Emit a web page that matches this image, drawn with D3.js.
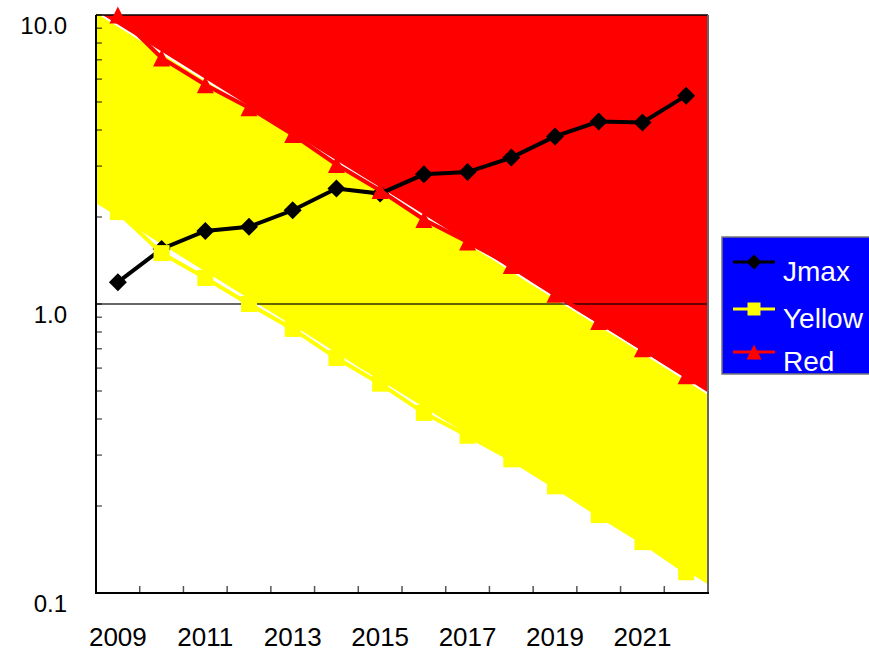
<!DOCTYPE html>
<html>
<head>
<meta charset="utf-8">
<script src="https://cdn.jsdelivr.net/npm/d3@7"></script>
<style>
  body { margin: 0; background: #fff; }
  svg { display: block; font-family: "Liberation Sans", Arial, sans-serif; }
</style>
</head>
<body>
<script>
'use strict';

// categories and series
var years = [2009, 2010, 2011, 2012, 2013, 2014, 2015, 2016, 2017, 2018, 2019, 2020, 2021, 2022];
var jmax = [1.19, 1.55, 1.79, 1.85, 2.11, 2.51, 2.41, 2.81, 2.86, 3.21, 3.80, 4.28, 4.25, 5.26];
var yellow = [2.08, 1.50, 1.23, 1.00, 0.82, 0.65, 0.53, 0.42, 0.35, 0.29, 0.234, 0.186, 0.15, 0.118];
var red = [10.0, 7.1, 5.74, 4.78, 3.86, 3.04, 2.47, 1.96, 1.64, 1.36, 1.08, 0.87, 0.70, 0.565];

// zone (area) boundaries sit on the category edges
var zoneEdges = [2008.5, 2009.5, 2010.5, 2011.5, 2012.5, 2013.5, 2014.5, 2015.5, 2016.5, 2017.5, 2018.5, 2019.5, 2020.5, 2021.5, 2022.5];
var redZone = [10.24, 8.25, 6.64, 5.35, 4.30, 3.46, 2.79, 2.25, 1.81, 1.46, 1.17, 0.94, 0.76, 0.61, 0.49];
var yellowZone = [2.21, 1.78, 1.43, 1.15, 0.93, 0.75, 0.60, 0.485, 0.39, 0.315, 0.253, 0.204, 0.164, 0.132, 0.106];

var yTickValues = [10, 1, 0.1];
var yTickLabels = ["10.0", "1.0", "0.1"];
var xTickLabels = [2009, 2011, 2013, 2015, 2017, 2019, 2021];

var legendNames = ["Jmax", "Yellow", "Red"];

var myChart = {};
myChart.width = 869;
myChart.height = 651;
myChart.left = 96;
myChart.right = 708;
myChart.top = 15;
myChart.bottom = 593;

myChart.xScale = d3.scaleLinear()
    .domain([2008.5, 2022.5])
    .range([myChart.left, myChart.right]);

myChart.yScale = d3.scaleLog()
    .domain([0.1, 10])
    .range([myChart.bottom, myChart.top]);

myChart.marker = function(sel, type, size) {
    var h = size / 2;
    if (type === "diamond") {
        sel.append("path").attr("d", "M0," + (-h) + "L" + h + ",0L0," + h + "L" + (-h) + ",0Z").attr("fill", "#000");
    } else if (type === "square") {
        sel.append("rect").attr("x", -h).attr("y", -h).attr("width", size).attr("height", size).attr("fill", "#FFFF00");
    } else {
        sel.append("path").attr("d", "M0," + (-h) + "L" + h + "," + h + "L" + (-h) + "," + h + "Z").attr("fill", "#FF0000");
    }
};

myChart.run = function() {
    var x = myChart.xScale, y = myChart.yScale;
    var svg = d3.select("body").append("svg")
        .attr("width", myChart.width)
        .attr("height", myChart.height);

    svg.append("defs").append("clipPath").attr("id", "plot")
        .append("rect")
        .attr("x", myChart.left).attr("y", myChart.top)
        .attr("width", myChart.right - myChart.left)
        .attr("height", myChart.bottom - myChart.top);

    // yellow zone between the two edges
    var yellowArea = d3.area()
        .x(function(d, i) { return x(zoneEdges[i]); })
        .y0(function(d, i) { return y(yellowZone[i]); })
        .y1(function(d, i) { return y(redZone[i]); });
    svg.append("path").datum(zoneEdges)
        .attr("d", yellowArea)
        .attr("fill", "#FFFF00");

    // red zone above the red edge
    var redArea = d3.area()
        .x(function(d, i) { return x(zoneEdges[i]); })
        .y0(function(d, i) { return y(redZone[i]); })
        .y1(function() { return y(10); });
    svg.append("path").datum(zoneEdges)
        .attr("clip-path", "url(#plot)")
        .attr("d", redArea)
        .attr("fill", "#FF0000");

    [redZone, yellowZone].forEach(function(edge) {
        svg.append("path").datum(edge)
            .attr("d", d3.line()
                .x(function(d, i) { return x(zoneEdges[i]); })
                .y(function(d) { return y(d); }))
            .attr("fill", "none")
            .attr("stroke", "#fff")
            .attr("stroke-width", 2);
    });

    // 1.0 gridline
    svg.append("line")
        .attr("x1", myChart.left).attr("x2", myChart.right)
        .attr("y1", y(1)).attr("y2", y(1))
        .attr("stroke", "#000").attr("stroke-opacity", 0.6).attr("stroke-width", 2);

    // y minor ticks (inside)
    svg.selectAll(".ytick")
        .data(y.ticks())
        .enter()
            .append("line")
            .classed("ytick", true)
            .attr("x1", myChart.left).attr("x2", myChart.left + 6)
            .attr("y1", function(d) { return y(d); })
            .attr("y2", function(d) { return y(d); })
            .attr("stroke", "#000").attr("stroke-opacity", 0.6).attr("stroke-width", 1.5);

    // x ticks between categories
    svg.selectAll(".xtick")
        .data(zoneEdges.slice(1, -1))
        .enter()
            .append("line")
            .classed("xtick", true)
            .attr("x1", function(d) { return x(d); })
            .attr("x2", function(d) { return x(d); })
            .attr("y1", myChart.bottom).attr("y2", myChart.bottom - 7)
            .attr("stroke", "#555").attr("stroke-width", 1.5);

    // frame
    svg.append("line").attr("x1", myChart.left).attr("x2", myChart.right)
        .attr("y1", myChart.top).attr("y2", myChart.top)
        .attr("stroke", "#000").attr("stroke-width", 1.5);
    svg.append("line").attr("x1", myChart.right).attr("x2", myChart.right)
        .attr("y1", myChart.top).attr("y2", myChart.bottom)
        .attr("stroke", "#666").attr("stroke-width", 2);
    svg.append("line").attr("x1", myChart.left).attr("x2", myChart.left)
        .attr("y1", myChart.top).attr("y2", myChart.bottom + 1)
        .attr("stroke", "#000").attr("stroke-width", 2);
    svg.append("line").attr("x1", myChart.left).attr("x2", myChart.right + 1)
        .attr("y1", myChart.bottom).attr("y2", myChart.bottom)
        .attr("stroke", "#000").attr("stroke-width", 2);

    // series: Jmax, Yellow, Red
    var series = [
        { values: jmax, color: "#000", marker: "diamond", size: 18 },
        { values: yellow, color: "#FFFF00", marker: "square", size: 16 },
        { values: red, color: "#FF0000", marker: "triangle", size: 17 }
    ];
    series.forEach(function(s) {
        svg.append("path").datum(s.values)
            .attr("d", d3.line()
                .x(function(d, i) { return x(years[i]); })
                .y(function(d) { return y(d); }))
            .attr("fill", "none")
            .attr("stroke", s.color)
            .attr("stroke-width", 4);
        svg.selectAll(".m-" + s.marker)
            .data(s.values)
            .enter()
                .append("g")
                .classed("m-" + s.marker, true)
                .attr("transform", function(d, i) { return "translate(" + x(years[i]) + "," + y(d) + ")"; })
                .each(function() { myChart.marker(d3.select(this), s.marker, s.size); });
    });

    // axis labels
    svg.selectAll(".ylabel")
        .data(yTickValues)
        .enter()
            .append("text")
            .classed("ylabel", true)
            .attr("x", 67)
            .attr("y", function(d) { return y(d) + 19; })
            .attr("text-anchor", "end")
            .attr("font-size", 24)
            .text(function(d, i) { return yTickLabels[i]; });

    svg.selectAll(".xlabel")
        .data(xTickLabels)
        .enter()
            .append("text")
            .classed("xlabel", true)
            .attr("x", function(d) { return x(d); })
            .attr("y", 646)
            .attr("text-anchor", "middle")
            .attr("font-size", 26)
            .text(function(d) { return d; });

    // legend
    var lg = svg.append("g");
    lg.append("rect")
        .attr("x", 722).attr("y", 237)
        .attr("width", 160).attr("height", 137)
        .attr("fill", "#0000FF")
        .attr("stroke", "#777").attr("stroke-width", 1.5);
    var rowY = [262, 309, 352];
    series.forEach(function(s, i) {
        lg.append("line")
            .attr("x1", 733).attr("x2", 775)
            .attr("y1", rowY[i]).attr("y2", rowY[i])
            .attr("stroke", s.color).attr("stroke-width", 3);
        var g = lg.append("g").attr("transform", "translate(754," + rowY[i] + ")");
        myChart.marker(g, s.marker, s.marker === "square" ? 13 : 15);
        lg.append("text")
            .attr("x", 783)
            .attr("y", rowY[i] + 19)
            .attr("fill", "#fff")
            .attr("font-size", 28)
            .text(legendNames[i]);
    });
};

window.onload = myChart.run;
</script>
</body>
</html>
